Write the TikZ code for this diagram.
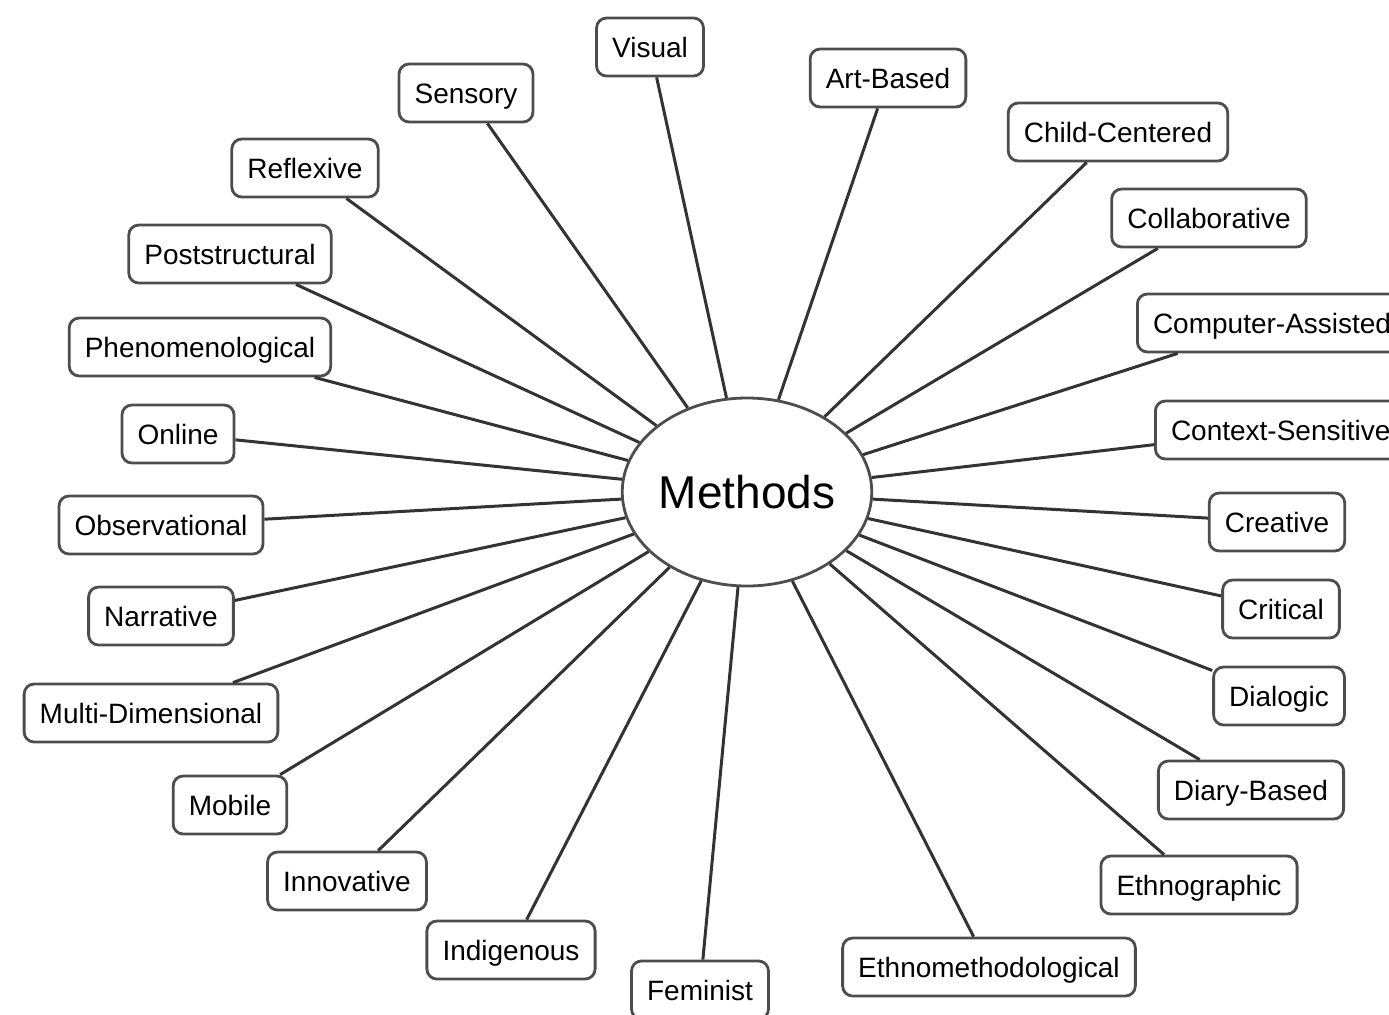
\documentclass[tikz,border=0pt]{standalone}
\usepackage{fontspec}
\setmainfont{Liberation Sans}
\usetikzlibrary{shapes.geometric}
\definecolor{boxline}{HTML}{4D4D4D}
\definecolor{conn}{HTML}{333333}
\tikzset{
  lbl/.style={draw=boxline, line width=1.4pt, rounded corners=5pt, fill=white,
    minimum height=29pt, inner xsep=7.8pt, inner ysep=0pt,
    text height=10pt, text depth=0pt,
    font=\fontsize{14pt}{16pt}\selectfont, text=black},
  hub/.style={ellipse, draw=boxline, line width=1.4pt, fill=white,
    minimum width=124pt, minimum height=94pt, inner sep=0pt,
    text height=16.5pt, text depth=0pt,
    font=\fontsize{23pt}{26pt}\selectfont},
  link/.style={draw=conn, line width=1.5pt}
}
\begin{document}
\begin{tikzpicture}[x=0.5pt,y=-0.5pt]
\useasboundingbox (0,0) rectangle (1389,1014);
\clip (0,0) rectangle (1389,1014);
\node[hub] (m) at (747,492) {Methods};
\node[lbl] (visual) at (650,47) {Visual};
\node[lbl] (art) at (888,78) {Art-Based};
\node[lbl] (sensory) at (466,93) {Sensory};
\node[lbl] (child) at (1118,132) {Child-Centered};
\node[lbl] (reflexive) at (305,168) {Reflexive};
\node[lbl] (collab) at (1209,218) {Collaborative};
\node[lbl] (post) at (230,254) {Poststructural};
\node[lbl, anchor=west] (computer) at (1136,323) {Computer-Assisted};
\node[lbl] (phen) at (200,347) {Phenomenological};
\node[lbl, anchor=west] (context) at (1154,430) {Context-Sensitive};
\node[lbl] (online) at (178,434) {Online};
\node[lbl] (obs) at (161,525) {Observational};
\node[lbl] (creative) at (1277,522) {Creative};
\node[lbl] (narr) at (161,616) {Narrative};
\node[lbl] (critical) at (1281,609) {Critical};
\node[lbl] (multi) at (151,713) {Multi-Dimensional};
\node[lbl] (dialogic) at (1279,696) {Dialogic};
\node[lbl] (mobile) at (230,805) {Mobile};
\node[lbl] (diary) at (1251,790) {Diary-Based};
\node[lbl] (innov) at (347,881) {Innovative};
\node[lbl] (ethno) at (1199,885) {Ethnographic};
\node[lbl] (indig) at (511,950) {Indigenous};
\node[lbl] (fem) at (700,990) {Feminist};
\node[lbl] (ethnometh) at (989,967) {Ethnomethodological};
\foreach \n in {visual,art,sensory,child,reflexive,collab,post,computer,phen,context,online,obs,creative,narr,critical,multi,dialogic,mobile,diary,innov,ethno,indig,fem,ethnometh}
  \draw[link] (m) -- (\n);
\end{tikzpicture}
\end{document}
